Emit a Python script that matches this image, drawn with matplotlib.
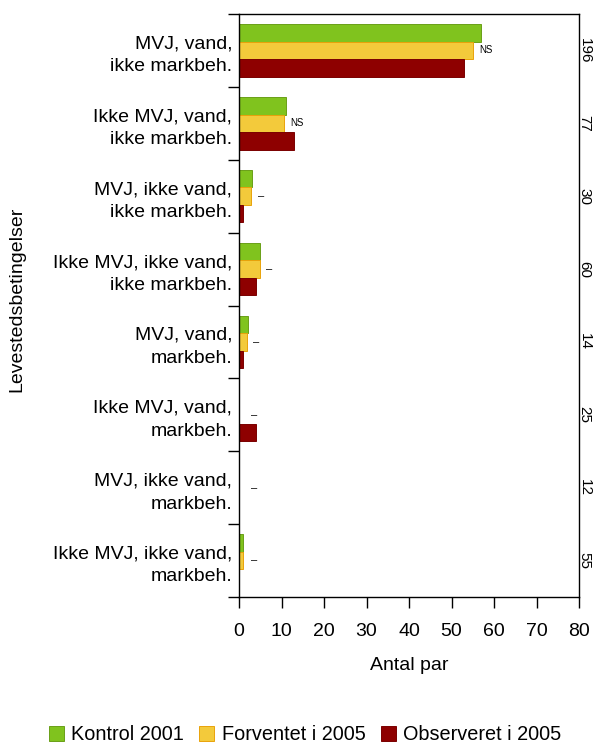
import matplotlib
matplotlib.use("Agg")
import matplotlib.pyplot as plt
import numpy as np
from matplotlib.patches import Patch

plt.rcParams['font.family'] = ['Liberation Sans', 'DejaVu Sans']

categories = [
    "MVJ, vand,\nikke markbeh.",
    "Ikke MVJ, vand,\nikke markbeh.",
    "MVJ, ikke vand,\nikke markbeh.",
    "Ikke MVJ, ikke vand,\nikke markbeh.",
    "MVJ, vand,\nmarkbeh.",
    "Ikke MVJ, vand,\nmarkbeh.",
    "MVJ, ikke vand,\nmarkbeh.",
    "Ikke MVJ, ikke vand,\nmarkbeh.",
]
kontrol_2001 = [57, 11, 3, 5, 2, 0, 0, 1]
forventet_2005 = [55, 10.6, 2.9, 4.9, 1.9, 0, 0, 1]
observeret_2005 = [53, 13, 1, 4, 1, 4, 0, 0]
significance = ["NS", "NS", "–", "–", "–", "–", "–", "–"]
n_pairs = ["196", "77", "30", "60", "14", "25", "12", "55"]
series_names = ["Kontrol 2001", "Forventet i 2005", "Observeret i 2005"]

colors = ["#80c31e", "#f3ca3b", "#8e0000"]
edges = ["#6a9f18", "#e9a20a", "#7a0000"]

fig = plt.figure(figsize=(5.94, 7.45), dpi=100)
ax = fig.add_axes([239/594, 1-597/745, 340/594, 583/745])

y = np.arange(len(categories))
h = 0.24
for k, (vals, c, e) in enumerate(zip([kontrol_2001, forventet_2005, observeret_2005], colors, edges)):
    ax.barh(y + (k - 1) * h, vals, height=h, color=c, edgecolor=e, linewidth=0.7)

for i, (s, v) in enumerate(zip(significance, forventet_2005)):
    xpos = max(v + 1.5, 2.8)
    fs = 7 if s == "NS" else 8
    ax.text(xpos, y[i], s, fontsize=fs, ha='left', va='center', color='black')

for i, n in enumerate(n_pairs):
    ax.text(1.016, y[i], n, transform=ax.get_yaxis_transform(), rotation=270,
            fontsize=11, ha='center', va='center', rotation_mode='anchor')

ax.set_xlim(0, 80)
ax.set_ylim(len(categories) - 0.5, -0.5)
ax.set_xticks(np.arange(0, 81, 10))
ax.tick_params(axis='x', direction='out', length=8, width=1, labelsize=14, pad=11)

ax.set_yticks(np.arange(-0.5, len(categories), 1.0))
ax.set_yticklabels([])
ax.set_yticks(y, minor=True)
ax.set_yticklabels(categories, minor=True, fontsize=14, linespacing=1.45)
ax.tick_params(axis='y', which='major', direction='out', length=8, width=1)
ax.tick_params(axis='y', which='minor', length=0, pad=5)

for sp in ax.spines.values():
    sp.set_linewidth(1.0)

ax.set_xlabel("Antal par", fontsize=14, labelpad=12)
ax.set_ylabel("Levestedsbetingelser", fontsize=14)
ax.yaxis.set_label_coords(-0.627, 0.511)

handles = [Patch(facecolor=c, edgecolor=e, linewidth=0.7) for c, e in zip(colors, edges)]
fig.legend(handles, series_names, loc='center', bbox_to_anchor=(0.5135, 1-735/745),
           ncol=3, frameon=False, fontsize=14.3, handlelength=0.75, handleheight=0.75,
           handletextpad=0.36, columnspacing=0.8, borderpad=0, borderaxespad=0)

fig.savefig("out.png", dpi=100)
